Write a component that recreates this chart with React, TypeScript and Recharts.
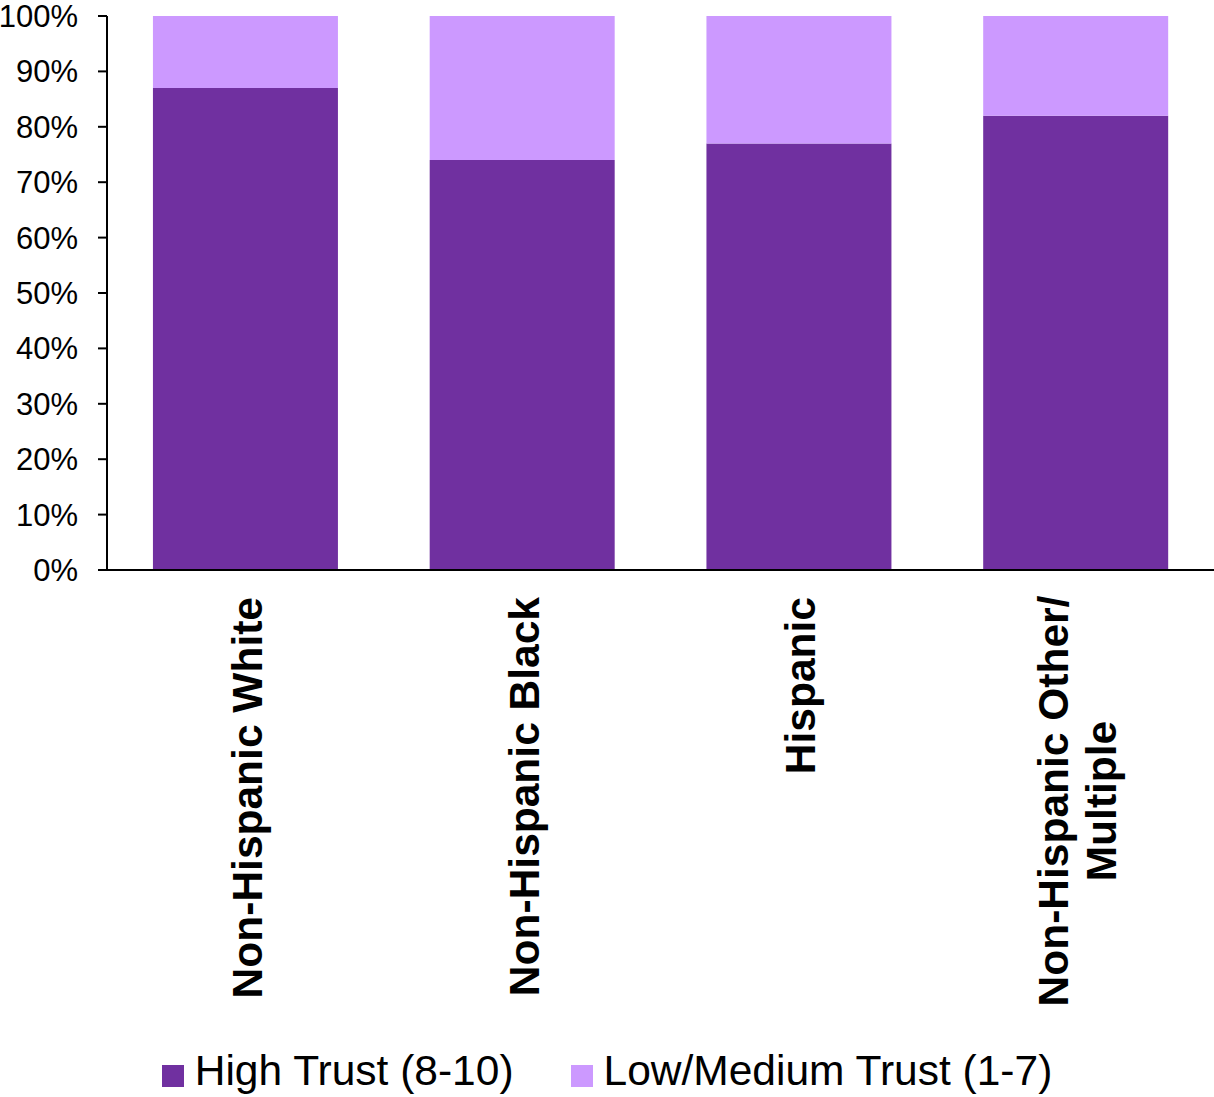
import React from "react";
import { BarChart, Bar, XAxis, YAxis, Legend } from "recharts";

if (typeof document !== "undefined") document.body.style.margin = "0";

const categories = ["Non-Hispanic White", "Non-Hispanic Black", "Hispanic", "Non-Hispanic Other/Multiple"];
const highTrust = [87, 74, 77, 82];
const lowMediumTrust = [13, 26, 23, 18];
const yTicks = [0, 10, 20, 30, 40, 50, 60, 70, 80, 90, 100];

const DARK = "#7030A0";
const LIGHT = "#CC99FF";
const FONT = "'Liberation Sans', Arial, sans-serif";

const data = categories.map((name, i) => ({
  name,
  high: highTrust[i],
  low: lowMediumTrust[i],
}));

const CategoryTick = (props: any) => {
  const { x, y, payload } = props;
  const value: string = payload.value;
  const slash = value.indexOf("/");
  if (slash < 0) {
    const bx = x + 16.5;
    const by = y + 19;
    return (
      <text
        x={bx}
        y={by}
        transform={`rotate(-90, ${bx}, ${by})`}
        textAnchor="end"
        fontSize={42.5}
        fontWeight="bold"
        fontFamily={FONT}
        fill="#000"
      >
        {value}
      </text>
    );
  }
  const lines = [value.slice(0, slash + 1), value.slice(slash + 1)];
  const mid = y + 223;
  return (
    <g>
      {lines.map((line, i) => {
        const bx = x - 7.5 + i * 48;
        return (
          <text
            key={i}
            x={bx}
            y={mid}
            transform={`rotate(-90, ${bx}, ${mid})`}
            textAnchor="middle"
            fontSize={42.5}
            fontWeight="bold"
            fontFamily={FONT}
            fill="#000"
          >
            {line}
          </text>
        );
      })}
    </g>
  );
};

const LegendContent = () => {
  const items = [
    { label: "High Trust (8-10)", color: DARK },
    { label: "Low/Medium Trust (1-7)", color: LIGHT },
  ];
  return (
    <div
      style={{
        display: "flex",
        justifyContent: "center",
        alignItems: "center",
        height: 57,
        paddingTop: 4,
        boxSizing: "border-box",
        fontFamily: FONT,
        fontSize: 42.5,
        lineHeight: "53px",
        color: "#000",
      }}
    >
      {items.map((it, i) => (
        <div key={it.label} style={{ display: "flex", alignItems: "center", marginLeft: i === 0 ? 0 : 57 }}>
          <span
            style={{
              display: "inline-block",
              width: 22,
              height: 22,
              background: it.color,
              marginRight: 11,
              marginTop: 10,
            }}
          />
          <span>{it.label}</span>
        </div>
      ))}
    </div>
  );
};

export default function App() {
  return (
    <div style={{ width: 1214, height: 1097, background: "#fff" }}>
      <BarChart
        width={1214}
        height={1097}
        data={data}
        margin={{ top: 16, right: 0, bottom: 0, left: 0 }}
        barCategoryGap="16.6%"
      >
        <XAxis
          dataKey="name"
          height={470}
          interval={0}
          tickLine={false}
          axisLine={{ stroke: "#000", strokeWidth: 2 }}
          tick={<CategoryTick />}
        />
        <YAxis
          width={107}
          domain={[0, 100]}
          ticks={yTicks}
          interval={0}
          tickFormatter={(v: number) => `${v}%`}
          tickSize={9}
          tickMargin={20}
          tick={{ fill: "#000", fontSize: 31, fontFamily: FONT }}
          tickLine={{ stroke: "#000", strokeWidth: 2 }}
          axisLine={{ stroke: "#000", strokeWidth: 2 }}
        />
        <Legend verticalAlign="bottom" height={57} content={<LegendContent />} />
        <Bar dataKey="high" name="High Trust (8-10)" stackId="a" fill={DARK} isAnimationActive={false} />
        <Bar dataKey="low" name="Low/Medium Trust (1-7)" stackId="a" fill={LIGHT} isAnimationActive={false} />
      </BarChart>
    </div>
  );
}
